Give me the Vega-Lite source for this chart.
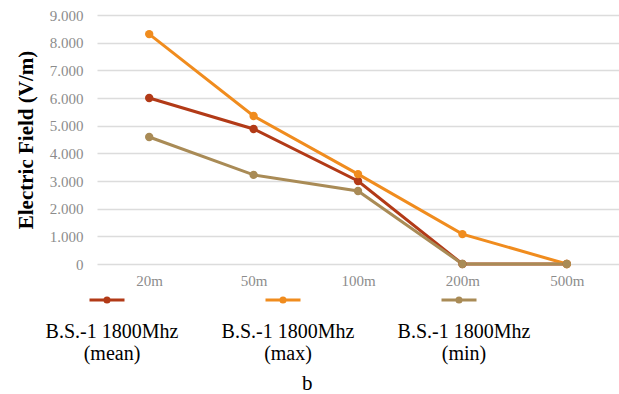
{
  "$schema": "https://vega.github.io/schema/vega-lite/v6.json",
  "width": 522,
  "height": 249,
  "padding": {"left": 15, "top": 8, "right": 0, "bottom": 0},
  "autosize": {"type": "pad"},
  "config": {"view": {"stroke": null}, "font": "Liberation Serif"},
  "title": {"text": "b", "orient": "bottom", "frame": "bounds", "dx": -10, "font": "Liberation Serif", "fontSize": 21, "fontWeight": "normal", "color": "#000000", "anchor": "middle", "offset": 9},
  "data": {"values": [
    {"distance": "20m", "series": "B.S.-1 1800Mhz (mean)", "value": 6.0},
    {"distance": "50m", "series": "B.S.-1 1800Mhz (mean)", "value": 4.88},
    {"distance": "100m", "series": "B.S.-1 1800Mhz (mean)", "value": 3.0},
    {"distance": "200m", "series": "B.S.-1 1800Mhz (mean)", "value": 0},
    {"distance": "500m", "series": "B.S.-1 1800Mhz (mean)", "value": 0},
    {"distance": "20m", "series": "B.S.-1 1800Mhz (max)", "value": 8.31},
    {"distance": "50m", "series": "B.S.-1 1800Mhz (max)", "value": 5.35},
    {"distance": "100m", "series": "B.S.-1 1800Mhz (max)", "value": 3.25},
    {"distance": "200m", "series": "B.S.-1 1800Mhz (max)", "value": 1.08},
    {"distance": "500m", "series": "B.S.-1 1800Mhz (max)", "value": 0},
    {"distance": "20m", "series": "B.S.-1 1800Mhz (min)", "value": 4.59},
    {"distance": "50m", "series": "B.S.-1 1800Mhz (min)", "value": 3.22},
    {"distance": "100m", "series": "B.S.-1 1800Mhz (min)", "value": 2.64},
    {"distance": "200m", "series": "B.S.-1 1800Mhz (min)", "value": 0},
    {"distance": "500m", "series": "B.S.-1 1800Mhz (min)", "value": 0}
  ]},
  "mark": {"type": "line", "strokeWidth": 3, "point": {"filled": true, "size": 70}},
  "encoding": {
    "x": {
      "field": "distance", "type": "nominal",
      "sort": ["20m", "50m", "100m", "200m", "500m"],
      "axis": {"title": null, "domain": false, "ticks": false, "labelAngle": 0, "labelColor": "#8c8c8c", "labelFontSize": 15, "labelPadding": 9}
    },
    "y": {
      "field": "value", "type": "quantitative",
      "scale": {"domain": [0, 9], "nice": false},
      "axis": {
        "values": [0, 1, 2, 3, 4, 5, 6, 7, 8, 9],
        "labelExpr": "datum.value == 0 ? '0' : format(datum.value, '.3f')",
        "domain": false, "ticks": false,
        "gridColor": "#dcdcdc", "gridWidth": 1.5,
        "labelColor": "#8c8c8c", "labelFontSize": 15, "labelPadding": 14,
        "title": "Electric Field (V/m)", "titleFont": "Liberation Serif", "titleFontSize": 21, "titleFontWeight": "bold", "titleColor": "#000000", "titlePadding": 13
      }
    },
    "color": {
      "field": "series", "type": "nominal",
      "scale": {"domain": ["B.S.-1 1800Mhz (mean)", "B.S.-1 1800Mhz (max)", "B.S.-1 1800Mhz (min)"], "range": ["#B23A17", "#F08C1E", "#A98B56"]},
      "legend": {
        "title": null, "orient": "none", "legendX": -9, "legendY": 266, "direction": "horizontal", "columns": 3,
        "symbolType": "M-1,0H1M-0.12,0A0.12,0.12,0,1,1,0.12,0A0.12,0.12,0,1,1,-0.12,0Z",
        "symbolSize": 1225, "symbolStrokeWidth": 3,
        "labelFont": "Liberation Serif", "labelFontSize": 20, "labelColor": "#000000", "labelLineHeight": 22,
        "labelExpr": "['', 'B.S.-1 1800Mhz', replace(datum.label, 'B.S.-1 1800Mhz ', '')]",
        "labelAlign": "center", "labelBaseline": "top", "labelOffset": -14, "labelLimit": 300,
        "columnPadding": 42
      }
    }
  }
}
